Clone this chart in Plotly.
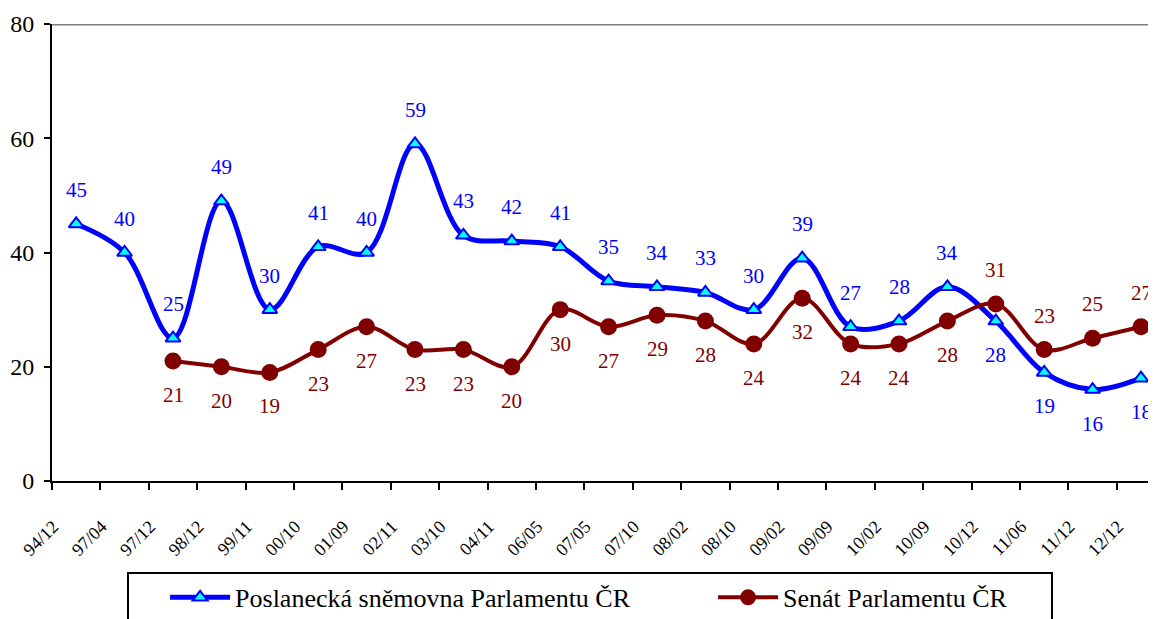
import plotly.graph_objects as go

categories = ["94/12", "97/04", "97/12", "98/12", "99/11", "00/10", "01/09", "02/11",
              "03/10", "04/11", "06/05", "07/05", "07/10", "08/02", "08/10", "09/02",
              "09/09", "10/02", "10/09", "10/12", "11/06", "11/12", "12/12"]
snemovna = [45, 40, 25, 49, 30, 41, 40, 59, 43, 42, 41, 35, 34, 33, 30, 39, 27, 28, 34, 28, 19, 16, 18]
senat_categories = categories[2:]
senat = [21, 20, 19, 23, 27, 23, 23, 20, 30, 27, 29, 28, 24, 32, 24, 24, 28, 31, 23, 25, 27]

# label placement: +1 above, -1 below
snemovna_pos = [1]*19 + [-1, -1, -1, -1]
senat_pos = [-1]*17 + [1, 1, 1, 1]

title_text = "Důvěra k Poslanecké sněmovně a Senátu – podíl důvěřujících v populaci (%)"
name_snemovna = "Poslanecká sněmovna Parlamentu ČR"
name_senat = "Senát Parlamentu ČR"

BLUE = "#0000FF"
RED = "#800000"
FONT = "Liberation Serif"
NBSP = "\u00a0"

fig = go.Figure()
fig.add_trace(go.Scatter(
    x=categories, y=snemovna, name=name_snemovna + NBSP * 12,
    mode="lines+markers", line=dict(color=BLUE, width=5, shape="spline", smoothing=1.0),
    marker=dict(symbol="triangle-up", size=13, color="#00FFFF", line=dict(color=BLUE, width=2)),
))
fig.add_trace(go.Scatter(
    x=senat_categories, y=senat, name=name_senat + NBSP * 6,
    mode="lines+markers", line=dict(color=RED, width=4, shape="spline", smoothing=1.0),
    marker=dict(symbol="circle", size=17, color=RED),
))

annotations = []
for c, v, p in zip(categories, snemovna, snemovna_pos):
    annotations.append(dict(x=c, y=v, text=str(v), showarrow=False, yshift=34 * p,
                            font=dict(family=FONT, size=21, color=BLUE)))
for c, v, p in zip(senat_categories, senat, senat_pos):
    annotations.append(dict(x=c, y=v, text=str(v), showarrow=False, yshift=34 * p,
                            font=dict(family=FONT, size=21, color=RED)))
annotations.append(dict(xref="paper", yref="paper", x=0.729, y=1, xanchor="right", yanchor="bottom",
                        yshift=19, text=title_text, showarrow=False,
                        font=dict(family=FONT, size=22, color="black")))

# page body has an 8px margin: figure is shifted by 8px right and down
fig.update_layout(
    width=1148, height=611,
    margin=dict(l=44, r=0, t=16, b=138, autoexpand=False),
    paper_bgcolor="white", plot_bgcolor="white",
    font=dict(family=FONT, color="black"),
    annotations=annotations,
    showlegend=True,
    legend=dict(orientation="h", x=0.068, xanchor="left", y=-0.199, yanchor="top",
                bordercolor="black", borderwidth=2, bgcolor="white",
                font=dict(family=FONT, size=26, color="black"),
                title=dict(text=NBSP * 4, side="left", font=dict(family=FONT, size=26)),
                itemwidth=60, traceorder="normal"),
    xaxis=dict(type="category", categoryorder="array", categoryarray=categories,
               range=[-0.5, 22.31], tickson="boundaries", ticks="outside", ticklen=7,
               tickwidth=2, tickcolor="black", showline=True, linecolor="black", linewidth=2,
               showgrid=False, tickangle=-45, tickfont=dict(family=FONT, size=18, color="black"),
               zeroline=False, automargin=False, ticklabelstandoff=26, ticklabelshift=-23),
    yaxis=dict(range=[0, 80], tickvals=[0, 20, 40, 60, 80], ticks="outside", ticklen=6,
               tickwidth=2, tickcolor="black", showline=True, linecolor="black", linewidth=2,
               showgrid=False, zeroline=False, automargin=False, ticklabelstandoff=5,
               tickfont=dict(family=FONT, size=24, color="black")),
    shapes=[dict(type="line", xref="paper", x0=0, x1=1, yref="y", y0=80, y1=80,
                 line=dict(color="#808080", width=3))],
)

fig.write_html("out.html")
